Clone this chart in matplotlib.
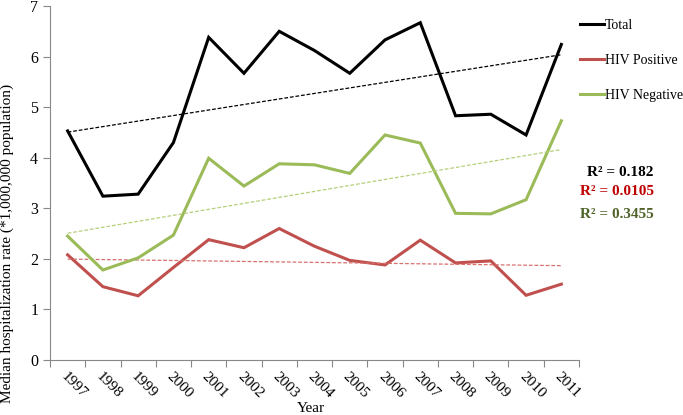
import numpy as np
import matplotlib
matplotlib.use("Agg")
import matplotlib.pyplot as plt

years = ["1997", "1998", "1999", "2000", "2001", "2002", "2003", "2004",
         "2005", "2006", "2007", "2008", "2009", "2010", "2011"]
total = [4.53, 3.24, 3.28, 4.30, 6.38, 5.67, 6.50, 6.12, 5.67, 6.33, 6.67, 4.83, 4.86, 4.45, 6.24]
hiv_pos = [2.08, 1.45, 1.27, 1.83, 2.38, 2.22, 2.60, 2.25, 1.97, 1.88, 2.37, 1.92, 1.96, 1.28, 1.50]
hiv_neg = [2.45, 1.78, 2.02, 2.47, 3.99, 3.44, 3.88, 3.86, 3.69, 4.45, 4.29, 2.90, 2.89, 3.17, 4.73]
series_names = ["Total", "HIV Positive", "HIV Negative"]
r2_labels = ["R² = 0.182", "R² = 0.0105", "R² = 0.3455"]

plt.rcParams['font.family'] = ['Liberation Serif', 'DejaVu Serif']

fig = plt.figure(figsize=(6.83, 4.15), dpi=100)
ax = fig.add_axes([0.0732, 0.1325, 0.7745, 0.853])

x = np.arange(len(years))
colors = ["#000000", "#c0504d", "#9bbb59"]
trend_colors = ["#000000", "#d9706d", "#b5cf7a"]
data = [total, hiv_pos, hiv_neg]
handles = []
for vals, c, tc, name in zip(data, colors, trend_colors, series_names):
    h, = ax.plot(x, vals, color=c, lw=2.2, solid_joinstyle='miter', label=name)
    handles.append(h)
    m, b = np.polyfit(x, vals, 1)
    ax.plot(x, m * x + b, color=tc, lw=0.9, ls=(0, (3, 1.5)))

ax.set_xlim(-0.5, len(years) - 0.5)
ax.set_ylim(0, 7)
ax.set_yticks(range(0, 8))
ax.set_xticks(np.arange(-0.5, len(years), 1.0))
ax.set_xticklabels([])
ax.set_xticks(x, minor=True)
ax.set_xticklabels(years, minor=True, rotation=-45, ha='left', va='top',
                   rotation_mode='anchor', fontsize=11)
ax.tick_params(axis='x', which='minor', length=0, pad=7)
ax.tick_params(axis='x', which='major', length=5, color='#888888')
ax.tick_params(axis='y', length=5, color='#888888', labelsize=11.5)
for s in ['top', 'right']:
    ax.spines[s].set_visible(False)
for s in ['left', 'bottom']:
    ax.spines[s].set_color('#888888')

ax.set_ylabel("Median hospitalization rate (*1,000,000 population)", fontsize=11)
ax.yaxis.set_label_coords(-0.068, 0.33)
ax.set_xlabel("Year", fontsize=11)
ax.xaxis.set_label_coords(0.493, -0.118)

fig.legend(handles=handles, loc='upper left', bbox_to_anchor=(0.841, 0.968),
           frameon=False, fontsize=10, handlelength=1.7, handletextpad=0.1,
           labelspacing=1.6, borderaxespad=0)

r2_colors = ["#000000", "#c00000", "#4f6228"]
r2_y = [0.585, 0.538, 0.483]
for t, c, yy in zip(r2_labels, r2_colors, r2_y):
    fig.text(0.957, yy, t, color=c, fontsize=11, fontweight='bold', ha='right', va='center')

fig.savefig("out.png", dpi=100)
